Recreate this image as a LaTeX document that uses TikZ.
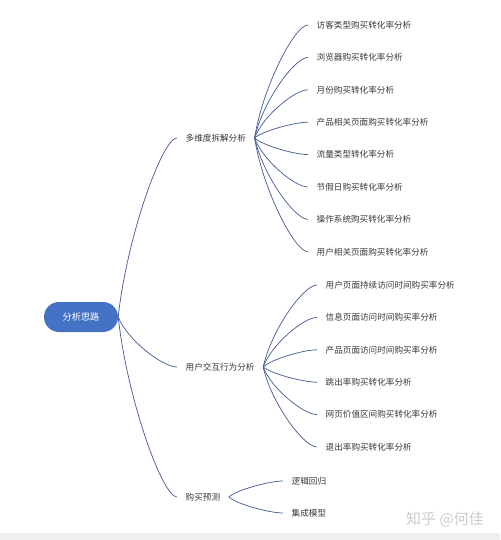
\documentclass[tikz,border=0pt]{standalone}
\usepackage{fontspec}
\setmainfont{Noto Sans CJK SC}
\usetikzlibrary{positioning,calc}
\definecolor{rootblue}{HTML}{4472C4}
\definecolor{linkblue}{HTML}{4A6096}
\definecolor{labelgray}{HTML}{383838}
\definecolor{stripgray}{HTML}{EFEFEF}
\definecolor{markgray}{HTML}{CBCBCB}

\begin{document}
\begin{tikzpicture}[x=1pt,y=-1pt,node distance=32.4pt,
  root node/.style={rounded corners=15pt,fill=rootblue,text=white,minimum width=74pt,
    minimum height=30pt,font=\fontsize{9.2}{11}\selectfont},
  branch node/.style={anchor=west,inner xsep=8.5pt,inner ysep=2pt,text=labelgray,
    font=\fontsize{8.6}{10}\selectfont},
  leaf node/.style={branch node},
  watermark/.style={text=markgray,font=\fontsize{15}{17}\selectfont},
  link/.style={draw=linkblue,line width=0.75pt,
    to path={let \p1=(\tikztostart),\p2=(\tikztotarget) in
      .. controls ({\x1+0.15*(\x2-\x1)},{\y1+0.45*(\y2-\y1)})
      and ({\x2-0.25*(\x2-\x1)},\y2) .. (\tikztotarget)}}]

  \useasboundingbox (0,0) rectangle (500,540);
  \fill[stripgray] (0,533) rectangle (500,540);

  \node[root node] (root) at (81,317) {分析思路};

  \node[branch node] (dim) at (177,138) {多维度拆解分析};
  \node[branch node] (act) at (177,367) {用户交互行为分析};
  \node[branch node] (pred) at (177,497) {购买预测};

  % 多维度拆解分析
  \node[leaf node] (d1) at (308,25) {访客类型购买转化率分析};
  \node[below=of d1.west,leaf node] (d2) {浏览器购买转化率分析};
  \node[below=of d2.west,leaf node] (d3) {月份购买转化率分析};
  \node[below=of d3.west,leaf node] (d4) {产品相关页面购买转化率分析};
  \node[below=of d4.west,leaf node] (d5) {流量类型转化率分析};
  \node[below=of d5.west,leaf node] (d6) {节假日购买转化率分析};
  \node[below=of d6.west,leaf node] (d7) {操作系统购买转化率分析};
  \node[below=of d7.west,leaf node] (d8) {用户相关页面购买转化率分析};

  % 用户交互行为分析
  \node[leaf node] (a1) at (317,285) {用户页面持续访问时间购买率分析};
  \node[below=of a1.west,leaf node] (a2) {信息页面访问时间购买率分析};
  \node[below=of a2.west,leaf node] (a3) {产品页面访问时间购买率分析};
  \node[below=of a3.west,leaf node] (a4) {跳出率购买转化率分析};
  \node[below=of a4.west,leaf node] (a5) {网页价值区间购买转化率分析};
  \node[below=of a5.west,leaf node] (a6) {退出率购买转化率分析};

  % 购买预测
  \node[leaf node] (p1) at (283,481) {逻辑回归};
  \node[below=32pt of p1.west,leaf node] (p2) {集成模型};

  \node[watermark] (mark) at (445,519) {知乎 @何佳};

  \path[every edge/.style={link}]
    (root.east) edge (dim.west)
                edge (act.west)
                edge (pred.west)
    (dim.east) edge (d1.west)
               edge (d2.west)
               edge (d3.west)
               edge (d4.west)
               edge (d5.west)
               edge (d6.west)
               edge (d7.west)
               edge (d8.west)
    (act.east) edge (a1.west)
               edge (a2.west)
               edge (a3.west)
               edge (a4.west)
               edge (a5.west)
               edge (a6.west)
    (pred.east) edge (p1.west)
                edge (p2.west)
    ;
\end{tikzpicture}
\end{document}
